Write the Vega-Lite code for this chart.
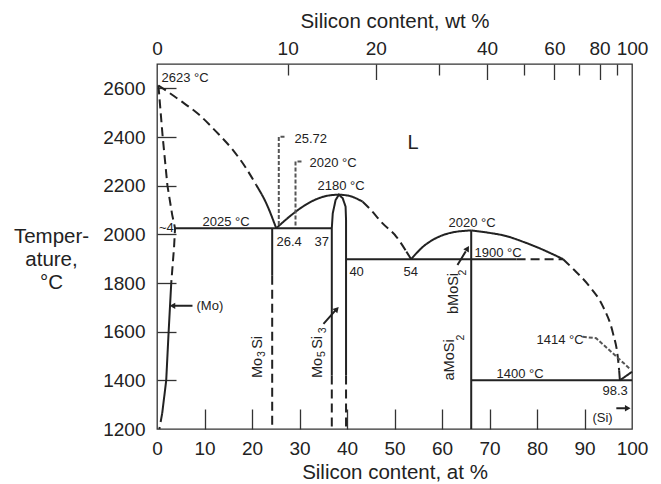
{
  "$schema": "https://vega.github.io/schema/vega-lite/v6.json",
  "width": 475,
  "height": 365,
  "autosize": "none",
  "padding": {"left": 157, "top": 64, "right": 29, "bottom": 55},
  "background": "white",
  "datasets": {
    "lines": [
      {"id": "a", "s": 1, "at": 0.3, "T": 2612, "st": "d", "c": 1},
      {"id": "a", "s": 2, "at": 4.74, "T": 2552, "st": "d", "c": 1},
      {"id": "a", "s": 3, "at": 8.95, "T": 2490, "st": "d", "c": 1},
      {"id": "a", "s": 4, "at": 12.46, "T": 2422, "st": "d", "c": 1},
      {"id": "a", "s": 5, "at": 15.96, "T": 2347, "st": "d", "c": 1},
      {"id": "a", "s": 6, "at": 18.78, "T": 2271, "st": "d", "c": 1},
      {"id": "a", "s": 7, "at": 20.88, "T": 2203, "st": "d", "c": 1},
      {"id": "b", "s": 1, "at": 20.88, "T": 2203, "st": "s", "c": 1},
      {"id": "b", "s": 2, "at": 22.99, "T": 2128, "st": "s", "c": 1},
      {"id": "b", "s": 3, "at": 25.1, "T": 2025, "st": "s", "c": 1},
      {"id": "c", "s": 1, "at": 0.3, "T": 2612, "st": "d", "c": 0},
      {"id": "c", "s": 2, "at": 1.2, "T": 2400, "st": "d", "c": 0},
      {"id": "c", "s": 3, "at": 2.2, "T": 2200, "st": "d", "c": 0},
      {"id": "c", "s": 4, "at": 3.2, "T": 2080, "st": "d", "c": 0},
      {"id": "c", "s": 5, "at": 3.8, "T": 2025, "st": "d", "c": 0},
      {"id": "c", "s": 6, "at": 3.6, "T": 1950, "st": "d", "c": 0},
      {"id": "c", "s": 7, "at": 3.0, "T": 1800, "st": "d", "c": 0},
      {"id": "d", "s": 1, "at": 3.0, "T": 1800, "st": "s", "c": 0},
      {"id": "d", "s": 2, "at": 2.45, "T": 1600, "st": "s", "c": 0},
      {"id": "d", "s": 3, "at": 1.94, "T": 1400, "st": "s", "c": 0},
      {"id": "d", "s": 4, "at": 1.1, "T": 1265, "st": "s", "c": 0},
      {"id": "e", "s": 1, "at": 1.1, "T": 1265, "st": "d", "c": 0},
      {"id": "e", "s": 2, "at": 0.5, "T": 1200, "st": "d", "c": 0},
      {"id": "f", "s": 1, "at": 3.8, "T": 2025, "st": "s", "c": 0},
      {"id": "f", "s": 2, "at": 36.8, "T": 2025, "st": "s", "c": 0},
      {"id": "g", "s": 1, "at": 24.25, "T": 2025, "st": "s", "c": 0},
      {"id": "g", "s": 2, "at": 24.25, "T": 1830, "st": "s", "c": 0},
      {"id": "h", "s": 1, "at": 24.25, "T": 1830, "st": "d", "c": 0},
      {"id": "h", "s": 2, "at": 24.25, "T": 1200, "st": "d", "c": 0},
      {"id": "i", "s": 1, "at": 25.1, "T": 2025, "st": "s", "c": 1},
      {"id": "i", "s": 2, "at": 27.9, "T": 2073, "st": "s", "c": 1},
      {"id": "i", "s": 3, "at": 30.7, "T": 2114, "st": "s", "c": 1},
      {"id": "i", "s": 4, "at": 33.5, "T": 2144, "st": "s", "c": 1},
      {"id": "i", "s": 5, "at": 36.3, "T": 2160, "st": "s", "c": 1},
      {"id": "i", "s": 6, "at": 38.3, "T": 2163, "st": "s", "c": 1},
      {"id": "j", "s": 1, "at": 38.3, "T": 2163, "st": "s", "c": 1},
      {"id": "j", "s": 2, "at": 40.5, "T": 2158, "st": "s", "c": 1},
      {"id": "j", "s": 3, "at": 43.3, "T": 2134, "st": "s", "c": 1},
      {"id": "k", "s": 1, "at": 43.3, "T": 2134, "st": "d", "c": 1},
      {"id": "k", "s": 2, "at": 44.7, "T": 2107, "st": "d", "c": 1},
      {"id": "k", "s": 3, "at": 47.5, "T": 2045, "st": "d", "c": 1},
      {"id": "k", "s": 4, "at": 50.4, "T": 1990, "st": "d", "c": 1},
      {"id": "k", "s": 5, "at": 52.5, "T": 1929, "st": "d", "c": 1},
      {"id": "l", "s": 1, "at": 52.5, "T": 1929, "st": "s", "c": 1},
      {"id": "l", "s": 2, "at": 53.5, "T": 1898, "st": "s", "c": 1},
      {"id": "m", "s": 1, "at": 36.8, "T": 1420, "st": "s", "c": 0},
      {"id": "m", "s": 2, "at": 36.8, "T": 2025, "st": "s", "c": 0},
      {"id": "m", "s": 3, "at": 37.0, "T": 2086, "st": "s", "c": 0},
      {"id": "m", "s": 4, "at": 37.6, "T": 2141, "st": "s", "c": 0},
      {"id": "m", "s": 5, "at": 38.3, "T": 2163, "st": "s", "c": 0},
      {"id": "m", "s": 6, "at": 39.1, "T": 2148, "st": "s", "c": 0},
      {"id": "m", "s": 7, "at": 39.7, "T": 2114, "st": "s", "c": 0},
      {"id": "m", "s": 8, "at": 39.8, "T": 2059, "st": "s", "c": 0},
      {"id": "m", "s": 9, "at": 39.8, "T": 1420, "st": "s", "c": 0},
      {"id": "n", "s": 1, "at": 36.8, "T": 1420, "st": "d", "c": 0},
      {"id": "n", "s": 2, "at": 36.8, "T": 1200, "st": "d", "c": 0},
      {"id": "o", "s": 1, "at": 39.8, "T": 1420, "st": "d", "c": 0},
      {"id": "o", "s": 2, "at": 39.8, "T": 1200, "st": "d", "c": 0},
      {"id": "p", "s": 1, "at": 39.8, "T": 1898, "st": "s", "c": 0},
      {"id": "p", "s": 2, "at": 75.7, "T": 1898, "st": "s", "c": 0},
      {"id": "q", "s": 1, "at": 75.7, "T": 1898, "st": "d", "c": 0},
      {"id": "q", "s": 2, "at": 85.5, "T": 1898, "st": "d", "c": 0},
      {"id": "r", "s": 1, "at": 66.15, "T": 1200, "st": "s", "c": 0},
      {"id": "r", "s": 2, "at": 66.15, "T": 2016, "st": "s", "c": 0},
      {"id": "t", "s": 1, "at": 53.5, "T": 1898, "st": "s", "c": 1},
      {"id": "t", "s": 2, "at": 56.0, "T": 1949, "st": "s", "c": 1},
      {"id": "t", "s": 3, "at": 58.8, "T": 1985, "st": "s", "c": 1},
      {"id": "t", "s": 4, "at": 62.0, "T": 2007, "st": "s", "c": 1},
      {"id": "t", "s": 5, "at": 66.15, "T": 2016, "st": "s", "c": 1},
      {"id": "u", "s": 1, "at": 66.15, "T": 2016, "st": "s", "c": 1},
      {"id": "u", "s": 2, "at": 70.0, "T": 2006, "st": "s", "c": 1},
      {"id": "u", "s": 3, "at": 73.5, "T": 1993, "st": "s", "c": 1},
      {"id": "u", "s": 4, "at": 77.0, "T": 1970, "st": "s", "c": 1},
      {"id": "u", "s": 5, "at": 80.5, "T": 1943, "st": "s", "c": 1},
      {"id": "u", "s": 6, "at": 85.5, "T": 1898, "st": "s", "c": 1},
      {"id": "v", "s": 1, "at": 85.5, "T": 1898, "st": "d", "c": 1},
      {"id": "v", "s": 2, "at": 87.5, "T": 1860, "st": "d", "c": 1},
      {"id": "v", "s": 3, "at": 91.1, "T": 1785, "st": "d", "c": 1},
      {"id": "v", "s": 4, "at": 93.9, "T": 1703, "st": "d", "c": 1},
      {"id": "v", "s": 5, "at": 96.0, "T": 1593, "st": "d", "c": 1},
      {"id": "v", "s": 6, "at": 97.0, "T": 1497, "st": "d", "c": 1},
      {"id": "v", "s": 7, "at": 97.3, "T": 1440, "st": "d", "c": 1},
      {"id": "v2", "s": 1, "at": 97.3, "T": 1440, "st": "s", "c": 0},
      {"id": "v2", "s": 2, "at": 97.45, "T": 1400, "st": "s", "c": 0},
      {"id": "w", "s": 1, "at": 97.45, "T": 1400, "st": "s", "c": 0},
      {"id": "w", "s": 2, "at": 100, "T": 1435, "st": "s", "c": 0},
      {"id": "x", "s": 1, "at": 66.15, "T": 1400, "st": "s", "c": 0},
      {"id": "x", "s": 2, "at": 100, "T": 1400, "st": "s", "c": 0},
      {"id": "y1", "s": 1, "at": 26.84, "T": 2401, "st": "l", "c": 0},
      {"id": "y1", "s": 2, "at": 25.64, "T": 2401, "st": "l", "c": 0},
      {"id": "y1", "s": 3, "at": 25.64, "T": 2031, "st": "l", "c": 0},
      {"id": "y2", "s": 1, "at": 30.42, "T": 2299, "st": "l", "c": 0},
      {"id": "y2", "s": 2, "at": 29.16, "T": 2299, "st": "l", "c": 0},
      {"id": "y2", "s": 3, "at": 29.16, "T": 2031, "st": "l", "c": 0},
      {"id": "y3", "s": 1, "at": 89.64, "T": 1579, "st": "l", "c": 0},
      {"id": "y3", "s": 2, "at": 92.46, "T": 1573, "st": "l", "c": 0},
      {"id": "y3", "s": 3, "at": 99.47, "T": 1449, "st": "l", "c": 0},
      {"id": "z1", "s": 1, "at": 7.47, "T": 1706, "st": "a", "c": 0},
      {"id": "z1", "s": 2, "at": 3.6, "T": 1706, "st": "a", "c": 0},
      {"id": "z2", "s": 1, "at": 35.05, "T": 1632, "st": "a", "c": 0},
      {"id": "z2", "s": 2, "at": 37.6, "T": 1688, "st": "a", "c": 0},
      {"id": "z3", "s": 1, "at": 63.26, "T": 1874, "st": "a", "c": 0},
      {"id": "z3", "s": 2, "at": 65.0, "T": 1930, "st": "a", "c": 0},
      {"id": "z4", "s": 1, "at": 96.7, "T": 1285, "st": "a", "c": 0},
      {"id": "z4", "s": 2, "at": 98.6, "T": 1285, "st": "a", "c": 0}
    ],
    "labels": [
      {"at": 0.95, "T": 2643, "label": "2623 °C"},
      {"at": 9.58, "T": 2052, "label": "2025 °C"},
      {"at": 0.4, "T": 2024, "label": "~4"},
      {"at": 25.16, "T": 1970, "label": "26.4"},
      {"at": 33.16, "T": 1970, "label": "37"},
      {"at": 33.79, "T": 2200, "label": "2180 °C"},
      {"at": 28.95, "T": 2393, "label": "25.72"},
      {"at": 32.1, "T": 2294, "label": "2020 °C"},
      {"at": 40.5, "T": 1847, "label": "40"},
      {"at": 51.9, "T": 1847, "label": "54"},
      {"at": 61.37, "T": 2048, "label": "2020 °C"},
      {"at": 66.84, "T": 1925, "label": "1900 °C"},
      {"at": 8.32, "T": 1706, "label": "(Mo)"},
      {"at": 79.9, "T": 1566, "label": "1414 °C"},
      {"at": 71.47, "T": 1426, "label": "1400 °C"},
      {"at": 93.79, "T": 1357, "label": "98.3"},
      {"at": 91.68, "T": 1245, "label": "(Si)"}
    ],
    "vlabels": [
      {"at": 21.16, "T": 1451, "label": "Mo"},
      {"at": 21.16, "T": 1556, "label": "Si"},
      {"at": 33.79, "T": 1451, "label": "Mo"},
      {"at": 33.79, "T": 1556, "label": "Si"},
      {"at": 62.63, "T": 1757, "label": "bMoSi"},
      {"at": 61.68, "T": 1484, "label": "aMoSi"}
    ],
    "vsubs": [
      {"at": 22.21, "T": 1508, "label": "3"},
      {"at": 34.84, "T": 1508, "label": "5"},
      {"at": 34.95, "T": 1605, "label": "3"},
      {"at": 64.42, "T": 1843, "label": "2"},
      {"at": 64.0, "T": 1576, "label": "2"}
    ],
    "heads": [
      {"at": 3.25, "T": 1706, "dir": 270},
      {"at": 37.85, "T": 1693, "dir": 42},
      {"at": 65.37, "T": 1942, "dir": 31},
      {"at": 99.1, "T": 1285, "dir": 90}
    ],
    "big": [
      {"at": 52.74, "T": 2375, "label": "L"}
    ]
  },
  "layer": [
    {
      "data": {"name": "lines"},
      "transform": [{"filter": "datum.c == 1"}],
      "mark": {"type": "line", "interpolate": "monotone", "strokeCap": "butt"},
      "encoding": {
        "x": {
          "field": "at", "type": "quantitative",
          "scale": {"domain": [0, 100], "nice": false, "zero": false},
          "axis": {
            "orient": "bottom",
            "values": [0, 10, 20, 30, 40, 50, 60, 70, 80, 90, 100],
            "ticks": false,
            "labelPadding": 10,
            "title": "Silicon content, at %",
            "titleBaseline": "alphabetic",
            "titleY": 49
          }
        },
        "y": {
          "field": "T", "type": "quantitative",
          "scale": {"domain": [1200, 2700], "nice": false, "zero": false},
          "axis": {
            "orient": "left",
            "values": [1200, 1400, 1600, 1800, 2000, 2200, 2400, 2600],
            "format": "d",
            "ticks": false,
            "labelPadding": 12,
            "title": ["Temper-", "ature,", "°C"],
            "titleAngle": 0,
            "titleAlign": "center",
            "titleBaseline": "alphabetic",
            "titleX": -106,
            "titleY": 178,
            "titleLineHeight": 23
          }
        },
        "detail": {"field": "id"},
        "order": {"field": "s", "type": "quantitative"},
        "strokeDash": {"field": "st", "type": "nominal", "legend": null,
          "scale": {"domain": ["s", "d", "l", "a"], "range": [[1, 0], [9, 5], [4, 2], [1, 0]]}},
        "strokeWidth": {"field": "st", "type": "nominal", "legend": null,
          "scale": {"domain": ["s", "d", "l", "a"], "range": [2, 2, 0.8, 1.2]}},
        "color": {"field": "st", "type": "nominal", "legend": null,
          "scale": {"domain": ["s", "d", "l", "a"], "range": ["#222", "#222", "#555", "#222"]}}
      }
    },
    {
      "data": {"name": "lines"},
      "transform": [{"filter": "datum.c == 0"}],
      "mark": {"type": "line", "strokeCap": "butt"},
      "encoding": {
        "x": {
          "field": "at", "type": "quantitative",
          "scale": {"domain": [0, 100], "nice": false, "zero": false},
          "axis": {"orient": "bottom", "values": [10, 20, 30, 40, 50, 60, 70, 80, 90], "ticks": true, "labels": false, "tickSize": -20, "title": null}
        },
        "y": {
          "field": "T", "type": "quantitative",
          "scale": {"domain": [1200, 2700], "nice": false, "zero": false},
          "axis": {"orient": "left", "values": [1400, 1600, 1800, 2000, 2200, 2400, 2600], "ticks": true, "labels": false, "tickSize": -19, "title": null}
        },
        "detail": {"field": "id"},
        "order": {"field": "s", "type": "quantitative"},
        "strokeDash": {"field": "st", "type": "nominal", "legend": null},
        "strokeWidth": {"field": "st", "type": "nominal", "legend": null},
        "color": {"field": "st", "type": "nominal", "legend": null}
      }
    },
    {
      "data": {"name": "labels"},
      "mark": {"type": "text", "align": "left", "baseline": "middle", "fontSize": 13, "color": "#222"},
      "encoding": {
        "x": {
          "field": "at", "type": "quantitative",
          "scale": {"domain": [0, 100], "nice": false, "zero": false},
          "axis": {
            "orient": "top",
            "values": [0, 27.51, 46.06, 69.49, 83.67, 93.18, 100],
            "ticks": false,
            "labelPadding": 6,
            "labelExpr": "datum.value < 1 ? '0' : datum.value < 30 ? '10' : datum.value < 50 ? '20' : datum.value < 75 ? '40' : datum.value < 90 ? '60' : datum.value < 99 ? '80' : '100'",
            "title": "Silicon content, wt %",
            "titleBaseline": "alphabetic",
            "titleY": -37
          }
        },
        "y": {"field": "T", "type": "quantitative", "scale": {"domain": [1200, 2700], "nice": false, "zero": false}, "axis": null},
        "text": {"field": "label"}
      }
    },
    {
      "data": {"name": "vlabels"},
      "mark": {"type": "text", "align": "center", "baseline": "middle", "angle": 270, "fontSize": 14.5, "color": "#222"},
      "encoding": {
        "x": {
          "field": "at", "type": "quantitative",
          "scale": {"domain": [0, 100], "nice": false, "zero": false},
          "axis": {"orient": "top", "values": [46.06, 69.49, 83.67, 93.18], "ticks": true, "labels": false, "tickSize": -15.5, "title": null}
        },
        "y": {"field": "T", "type": "quantitative", "scale": {"domain": [1200, 2700], "nice": false, "zero": false}, "axis": null},
        "text": {"field": "label"}
      }
    },
    {
      "data": {"name": "heads"},
      "mark": {"type": "point", "shape": "triangle-up", "filled": true, "size": 42, "color": "#222", "opacity": 1},
      "encoding": {
        "x": {
          "field": "at", "type": "quantitative",
          "scale": {"domain": [0, 100], "nice": false, "zero": false},
          "axis": {"orient": "top", "values": [27.51, 59.42, 77.36, 88.85, 96.85], "ticks": true, "labels": false, "tickSize": -11, "title": null}
        },
        "y": {"field": "T", "type": "quantitative", "scale": {"domain": [1200, 2700], "nice": false, "zero": false}, "axis": null},
        "angle": {"field": "dir", "type": "quantitative", "scale": null}
      }
    },
    {
      "data": {"name": "vsubs"},
      "mark": {"type": "text", "align": "center", "baseline": "middle", "angle": 270, "fontSize": 10.5, "color": "#222"},
      "encoding": {
        "x": {"field": "at", "type": "quantitative", "scale": {"domain": [0, 100], "nice": false, "zero": false}, "axis": null},
        "y": {"field": "T", "type": "quantitative", "scale": {"domain": [1200, 2700], "nice": false, "zero": false}, "axis": null},
        "text": {"field": "label"}
      }
    },
    {
      "data": {"name": "big"},
      "mark": {"type": "text", "align": "left", "baseline": "middle", "fontSize": 20, "color": "#222"},
      "encoding": {
        "x": {"field": "at", "type": "quantitative", "scale": {"domain": [0, 100], "nice": false, "zero": false}, "axis": null},
        "y": {"field": "T", "type": "quantitative", "scale": {"domain": [1200, 2700], "nice": false, "zero": false}, "axis": null},
        "text": {"field": "label"}
      }
    }
  ],
  "resolve": {"axis": {"x": "independent", "y": "independent"}},
  "config": {
    "font": "Liberation Sans",
    "view": {"stroke": "#333", "strokeWidth": 1.3},
    "axis": {
      "grid": false,
      "domain": false,
      "labelFont": "Liberation Sans",
      "labelFontSize": 19,
      "labelColor": "#222",
      "titleFont": "Liberation Sans",
      "titleFontSize": 20.5,
      "titleFontWeight": "normal",
      "titleColor": "#222",
      "tickColor": "#333",
      "tickWidth": 1.3,
      "labelFlush": false,
      "labelOverlap": false,
      "labelBound": false
    }
  }
}
